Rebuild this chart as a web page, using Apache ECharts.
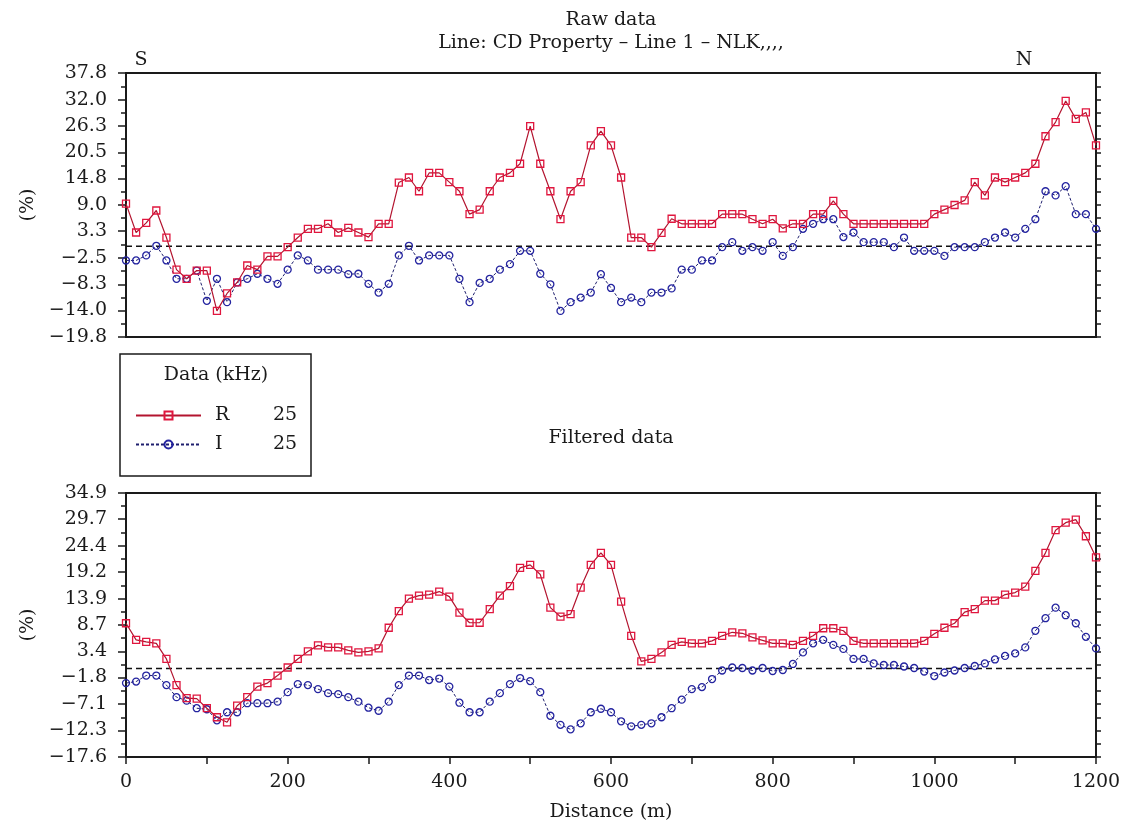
<!DOCTYPE html>
<html>
<head>
<meta charset="utf-8">
<title>Raw data / Filtered data</title>
<script src="https://cdn.jsdelivr.net/npm/echarts@6/dist/echarts.min.js"></script>
<style>
  html, body { margin: 0; padding: 0; background: #fff; }
  #chart { width: 1131px; height: 832px; }
</style>
</head>
<body>
<div id="chart"></div>
<script>
// stations along the line (m)
var distances = [
  0, 12.5, 25, 37.5, 50, 62.5, 75, 87.5,
  100, 112.5, 125, 137.5, 150, 162.5, 175, 187.5,
  200, 212.5, 225, 237.5, 250, 262.5, 275, 287.5,
  300, 312.5, 325, 337.5, 350, 362.5, 375, 387.5,
  400, 412.5, 425, 437.5, 450, 462.5, 475, 487.5,
  500, 512.5, 525, 537.5, 550, 562.5, 575, 587.5,
  600, 612.5, 625, 637.5, 650, 662.5, 675, 687.5,
  700, 712.5, 725, 737.5, 750, 762.5, 775, 787.5,
  800, 812.5, 825, 837.5, 850, 862.5, 875, 887.5,
  900, 912.5, 925, 937.5, 950, 962.5, 975, 987.5,
  1000, 1012.5, 1025, 1037.5, 1050, 1062.5, 1075, 1087.5,
  1100, 1112.5, 1125, 1137.5, 1150, 1162.5, 1175, 1187.5,
  1200
];

// raw data (%)
var rawR = [
  9.3, 3.0, 5.1, 7.8, 1.9, -5.1, -7.1, -5.3, -5.3, -14.1, -10.3, -7.9, -4.2, -5.1, -2.2, -2.2,
  -0.2, 1.9, 3.8, 3.8, 4.9, 3.0, 4.0, 3.0, 2.0, 4.9, 4.9, 13.9, 15.0, 12.0, 16.0, 16.0,
  14.0, 12.0, 7.0, 8.0, 12.0, 15.0, 16.0, 18.0, 26.2, 18.0, 12.0, 5.9, 12.0, 14.0, 22.0, 25.1,
  22.0, 15.0, 1.9, 1.9, -0.2, 2.9, 6.0, 4.9, 4.9, 4.9, 4.9, 7.0, 7.0, 7.0, 5.9, 4.9,
  5.9, 3.9, 4.9, 4.9, 7.0, 7.0, 9.9, 7.0, 4.9, 4.9, 4.9, 4.9, 4.9, 4.9, 4.9, 4.9,
  7.0, 8.0, 9.0, 10.0, 14.0, 11.1, 15.0, 14.0, 15.0, 16.0, 18.0, 24.0, 27.1, 31.7, 27.8, 29.2,
  22.0
];
var rawI = [
  -3.1, -3.1, -2.0, 0.1, -3.1, -7.1, -7.1, -5.3, -11.9, -7.1, -12.2, -7.9, -7.1, -6.0, -7.1, -8.2,
  -5.1, -2.0, -3.1, -5.1, -5.1, -5.1, -6.1, -6.0, -8.2, -10.1, -8.2, -2.0, 0.1, -3.1, -2.0, -2.0,
  -2.0, -7.1, -12.2, -8.0, -7.1, -5.1, -3.9, -1.0, -1.0, -6.0, -8.3, -14.1, -12.2, -11.2, -10.1, -6.1,
  -9.1, -12.2, -11.2, -12.2, -10.1, -10.1, -9.2, -5.1, -5.1, -3.1, -3.1, -0.2, 0.9, -1.0, -0.2, -1.0,
  0.9, -2.1, -0.2, 3.8, 4.9, 5.9, 5.9, 2.0, 3.0, 0.9, 0.9, 0.9, -0.2, 1.9, -1.0, -1.0,
  -1.0, -2.1, -0.2, -0.2, -0.2, 0.9, 1.9, 3.0, 1.9, 3.8, 5.9, 12.0, 11.1, 13.1, 7.0, 7.0,
  3.8
];

// filtered data (%)
var filtR = [
  9.0, 5.7, 5.3, 5.0, 1.9, -3.3, -5.9, -6.0, -7.9, -9.7, -10.7, -7.4, -5.7, -3.6, -2.9, -1.4,
  0.2, 1.9, 3.4, 4.6, 4.2, 4.2, 3.6, 3.2, 3.4, 4.0, 8.1, 11.4, 13.9, 14.5, 14.7, 15.3,
  14.3, 11.1, 9.1, 9.1, 11.8, 14.5, 16.4, 20.0, 20.6, 18.7, 12.1, 10.3, 10.8, 16.1, 20.6, 23.0,
  20.6, 13.3, 6.5, 1.4, 1.9, 3.2, 4.7, 5.3, 5.0, 5.0, 5.5, 6.5, 7.2, 7.0, 6.2, 5.6,
  5.0, 5.0, 4.7, 5.5, 6.5, 8.0, 8.0, 7.5, 5.5, 5.0, 5.0, 5.0, 5.0, 5.0, 5.0, 5.5,
  6.9, 8.1, 9.0, 11.2, 11.8, 13.5, 13.5, 14.7, 15.1, 16.3, 19.4, 23.0, 27.5, 29.0, 29.6, 26.3,
  22.1
];
var filtI = [
  -2.9, -2.6, -1.4, -1.4, -3.3, -5.7, -6.4, -7.9, -8.1, -10.3, -8.7, -8.7, -6.9, -6.9, -6.9, -6.6,
  -4.7, -3.1, -3.3, -4.1, -4.9, -5.1, -5.7, -6.6, -7.8, -8.4, -6.6, -3.3, -1.4, -1.4, -2.3, -2.0,
  -3.6, -6.8, -8.7, -8.7, -6.6, -4.9, -3.1, -1.9, -2.5, -4.7, -9.4, -11.2, -12.1, -10.9, -8.7, -8.0,
  -8.7, -10.5, -11.5, -11.2, -10.9, -9.7, -7.9, -6.2, -4.1, -3.7, -2.1, -0.4, 0.2, 0.1, -0.4, 0.1,
  -0.5, -0.3, 0.9, 3.2, 5.0, 5.7, 4.7, 3.9, 1.9, 1.9, 1.0, 0.7, 0.7, 0.4, 0.1, -0.6,
  -1.5, -0.8, -0.4, 0.1, 0.5, 1.0, 1.8, 2.5, 3.0, 4.2, 7.5, 10.0, 12.1, 10.6, 9.0, 6.3,
  4.0
];

var rawTicks = ["-19.8", "-14.0", "-8.3", "-2.5", "3.3", "9.0", "14.8", "20.5", "26.3", "32.0", "37.8"];
var filtTicks = ["-17.6", "-12.3", "-7.1", "-1.8", "3.4", "8.7", "13.9", "19.2", "24.4", "29.7", "34.9"];
var distanceTicks = [0, 200, 400, 600, 800, 1000, 1200];
var legendNames = ["R", "I"];
var legendFreqs = [25, 25];
var zeroLevel = [[0, 0], [1200, 0]];

var FONT = "DejaVu Serif";
var INK = "#1a1a1a";
var RED_LINE = "#b3142f";
var RED_MARK = "#e0163e";
var BLUE_LINE = "#1f1f6e";
var BLUE_MARK = "#2424a0";

function pairs(values) {
  return distances.map(function (d, i) {
    return [d, values[i]];
  });
}

function midpoints(vals) {
  var out = [];
  for (var i = 0; i < vals.length - 1; i++) out.push((vals[i] + vals[i + 1]) / 2);
  return out;
}

function tickText(v) {
  return Number(v).toFixed(1).replace("-", "\u2212");
}

// main left axis + minor-tick axis + right tick axis for one panel
function panelAxes(gridIndex, labels) {
  var major = labels.map(Number);
  var minor = midpoints(major);
  var lo = major[0];
  var hi = major[major.length - 1];
  return [
    {
      type: "value", gridIndex: gridIndex, position: "left", min: lo, max: hi,
      name: "(%)", nameLocation: "middle", nameGap: 88, nameRotate: 90,
      nameTextStyle: { fontFamily: FONT, fontSize: 19, color: INK },
      axisLine: { show: true, onZero: false, lineStyle: { color: INK, width: 2 } },
      axisTick: { show: true, customValues: major, length: 8, lineStyle: { color: INK, width: 1.5 } },
      axisLabel: {
        customValues: major, margin: 19, fontFamily: FONT, fontSize: 19, color: INK,
        formatter: tickText
      },
      splitLine: { show: false }
    },
    {
      type: "value", gridIndex: gridIndex, position: "left", min: lo, max: hi,
      axisLine: { show: false, onZero: false },
      axisTick: { show: true, customValues: minor, length: 5, lineStyle: { color: INK, width: 1.5 } },
      axisLabel: { show: false },
      splitLine: { show: false }
    },
    {
      type: "value", gridIndex: gridIndex, position: "right", min: lo, max: hi,
      axisLine: { show: true, onZero: false, lineStyle: { color: INK, width: 2 } },
      axisTick: { show: true, customValues: major.concat(minor), length: 5, lineStyle: { color: INK, width: 1.5 } },
      axisLabel: { show: false },
      splitLine: { show: false }
    }
  ];
}

function panelSeries(gridIndex, yAxisIndex, rValues, iValues) {
  return [
    {
      name: "zero", type: "line", xAxisIndex: gridIndex, yAxisIndex: yAxisIndex,
      data: zeroLevel, symbol: "none", silent: true,
      lineStyle: { color: "#111", width: 1.6, type: [6, 4] }, z: 1
    },
    {
      name: "R", type: "line", xAxisIndex: gridIndex, yAxisIndex: yAxisIndex,
      data: pairs(rValues), symbol: "rect", symbolSize: 7, showAllSymbol: true,
      lineStyle: { color: RED_LINE, width: 1.2 },
      itemStyle: { color: "rgba(255,255,255,0)", borderColor: RED_MARK, borderWidth: 1.3 },
      z: 3
    },
    {
      name: "I", type: "line", xAxisIndex: gridIndex, yAxisIndex: yAxisIndex,
      data: pairs(iValues), symbol: "circle", symbolSize: 7, showAllSymbol: true,
      lineStyle: { color: BLUE_LINE, width: 1, type: [3, 2] },
      itemStyle: { color: "rgba(255,255,255,0)", borderColor: BLUE_MARK, borderWidth: 1.3 },
      z: 2
    }
  ];
}

function label(text, x, y, align) {
  return {
    type: "text", x: x, y: y,
    style: {
      text: text, fontFamily: FONT, fontSize: 19, fill: INK,
      textAlign: align || "center", textVerticalAlign: "middle"
    }
  };
}

var chart = echarts.init(document.getElementById("chart"), null, { renderer: "canvas" });

chart.setOption({
  animation: false,
  backgroundColor: "#fff",
  grid: [
    { left: 126, right: 35, top: 73, height: 264, show: true, borderColor: INK, borderWidth: 2, outerBoundsMode: "none" },
    { left: 126, right: 35, top: 493, height: 264, show: true, borderColor: INK, borderWidth: 2, outerBoundsMode: "none" }
  ],
  xAxis: [
    {
      type: "value", gridIndex: 0, min: 0, max: 1200, position: "bottom",
      axisLine: { show: true, onZero: false, lineStyle: { color: INK, width: 2 } },
      axisTick: { show: false }, axisLabel: { show: false }, splitLine: { show: false }
    },
    {
      type: "value", gridIndex: 1, min: 0, max: 1200, interval: 100, position: "bottom",
      name: "Distance (m)", nameLocation: "middle", nameGap: 46,
      nameTextStyle: { fontFamily: FONT, fontSize: 19, color: INK },
      axisLine: { show: true, onZero: false, lineStyle: { color: INK, width: 2 } },
      axisTick: { show: true, length: 7, lineStyle: { color: INK, width: 1.5 } },
      axisLabel: {
        customValues: distanceTicks, margin: 16, fontFamily: FONT, fontSize: 19, color: INK,
        formatter: function (v) { return String(v); }
      },
      splitLine: { show: false }
    }
  ],
  yAxis: panelAxes(0, rawTicks).concat(panelAxes(1, filtTicks)),
  legend: {
    data: legendNames, orient: "vertical", left: 130, top: 401,
    itemWidth: 65, itemHeight: 10, itemGap: 10, selectedMode: false,
    textStyle: {
      fontFamily: FONT, fontSize: 19, color: INK,
      rich: {
        n: { fontFamily: FONT, fontSize: 19, color: INK, width: 58, padding: [0, 0, 0, 9] },
        v: { fontFamily: FONT, fontSize: 19, color: INK }
      }
    },
    formatter: function (name) {
      return "{n|" + name + "}{v|" + legendFreqs[legendNames.indexOf(name)] + "}";
    }
  },
  graphic: [
    label("Raw data", 611, 20),
    label("Line: CD Property \u2013 Line 1 \u2013 NLK,,,,", 611, 43),
    label("S", 141, 60),
    label("N", 1024, 60),
    label("Filtered data", 611, 438),
    {
      type: "rect", shape: { x: 120, y: 354, width: 191, height: 122 },
      style: { fill: "#fff", stroke: INK, lineWidth: 1.5 }, z: -1
    },
    label("Data (kHz)", 216, 375)
  ],
  series: panelSeries(0, 0, rawR, rawI).concat(panelSeries(1, 3, filtR, filtI))
});
</script>
</body>
</html>
